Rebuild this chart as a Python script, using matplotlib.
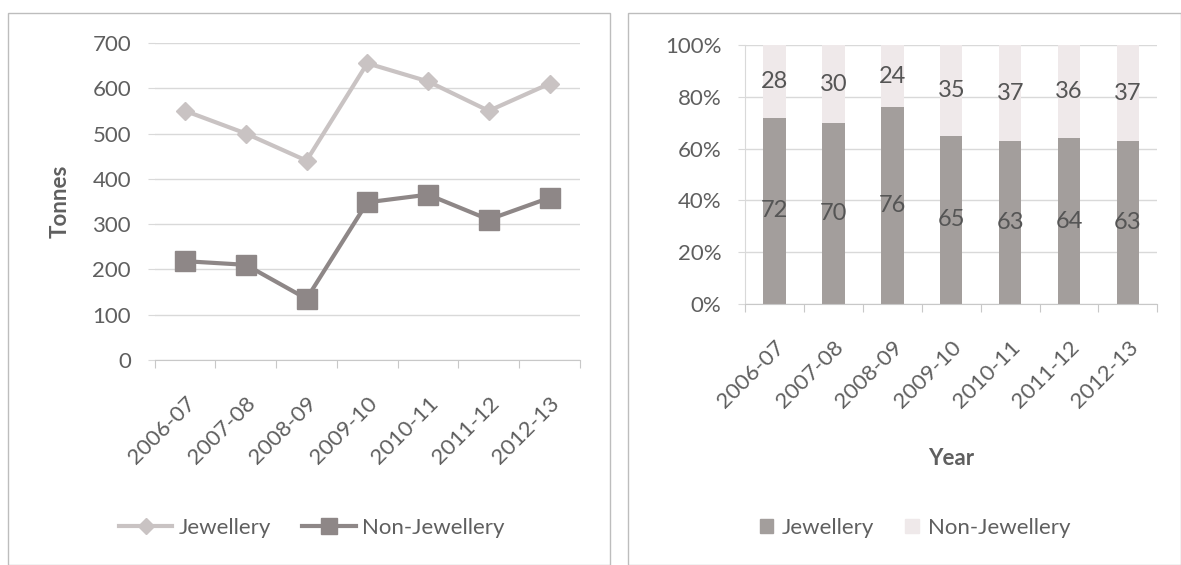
import matplotlib.pyplot as plt
import numpy as np
from matplotlib.patches import Rectangle
from matplotlib.lines import Line2D

plt.rcParams['font.family'] = ['Lato', 'DejaVu Sans']

years = ['2006-07', '2007-08', '2008-09', '2009-10', '2010-11', '2011-12', '2012-13']
jewellery_t = [550, 500, 440, 655, 615, 550, 610]
non_jewellery_t = [218, 210, 135, 348, 365, 310, 358]
jewellery_pct = [72, 70, 76, 65, 63, 64, 63]
non_jewellery_pct = [28, 30, 24, 35, 37, 36, 37]

text_col = '#5f5f5f'
grid_col = '#d9d9d9'
jew_line = '#c9c3c3'
non_line = '#8e8787'
jew_bar = '#a39e9c'
non_bar = '#efe9ea'
fs = 16

fig = plt.figure(figsize=(11.81, 5.65), dpi=100)

# panel frames
for x0, x1 in [(8, 610), (628, 1181)]:
    fig.patches.append(Rectangle((x0 / 1181, 0), (x1 - x0) / 1181, 1 - 13 / 565,
                                 transform=fig.transFigure, fill=False,
                                 edgecolor='#bdbdbd', linewidth=1))

x = np.arange(len(years))


def style_axes(ax):
    ax.set_xlim(-0.5, len(years) - 0.5)
    ax.grid(axis='y', color=grid_col, linewidth=1)
    ax.set_axisbelow(True)
    for s in ['top', 'right', 'left']:
        ax.spines[s].set_visible(False)
    ax.spines['bottom'].set_color('#c8c8c8')
    ax.set_xticks(np.arange(-0.5, len(years)), minor=False)
    ax.set_xticklabels([])
    ax.set_xticks(x, minor=True)
    ax.set_xticklabels(years, minor=True, rotation=45, ha='right',
                       rotation_mode='anchor', fontsize=fs, color=text_col)
    ax.tick_params(axis='x', which='major', length=6, color='#c8c8c8')
    ax.tick_params(axis='x', which='minor', length=0, pad=24)
    ax.tick_params(axis='y', length=5, color=grid_col, labelsize=fs,
                   labelcolor=text_col, pad=12)


# left: tonnes
ax1 = fig.add_axes([0.131, 0.363, 0.36, 0.561])
ax1.plot(x, jewellery_t, color=jew_line, linewidth=3, marker='D', markersize=9,
         label='Jewellery')
ax1.plot(x, non_jewellery_t, color=non_line, linewidth=3, marker='s', markersize=14,
         label='Non-Jewellery')
ax1.set_ylim(0, 700)
ax1.set_yticks(range(0, 701, 100))
style_axes(ax1)
ax1.set_ylabel('Tonnes', fontsize=fs, fontweight='bold', color=text_col, labelpad=16)

h1 = [Line2D([], [], color=jew_line, linewidth=3, marker='D', markersize=8),
      Line2D([], [], color=non_line, linewidth=3, marker='s', markersize=11)]
fig.legend(h1, ['Jewellery', 'Non-Jewellery'], loc='center', ncol=2,
           bbox_to_anchor=(312 / 1181, 1 - 528 / 565), frameon=False, fontsize=fs,
           labelcolor=text_col, handlelength=2.4, handletextpad=0.3, columnspacing=1.4)

# right: share
ax2 = fig.add_axes([0.631, 0.462, 0.349, 0.458])
w = 0.38
ax2.bar(x, jewellery_pct, width=w, color=jew_bar, label='Jewellery')
ax2.bar(x, non_jewellery_pct, width=w, bottom=jewellery_pct, color=non_bar,
        label='Non-Jewellery')
for i in range(len(years)):
    ax2.text(x[i], jewellery_pct[i] / 2, str(jewellery_pct[i]), ha='center',
             va='center', fontsize=17, color='#555555')
    ax2.text(x[i], jewellery_pct[i] + non_jewellery_pct[i] / 2, str(non_jewellery_pct[i]),
             ha='center', va='center', fontsize=17, color='#555555')
ax2.set_ylim(0, 100)
ax2.set_yticks(range(0, 101, 20))
ax2.set_yticklabels([f'{v}%' for v in range(0, 101, 20)])
style_axes(ax2)
ax2.spines['left'].set_visible(True)
ax2.spines['left'].set_color(grid_col)
ax2.set_xlabel('Year', fontsize=fs, fontweight='bold', color=text_col, labelpad=26)

h2 = [Rectangle((0, 0), 1, 1, color=jew_bar), Rectangle((0, 0), 1, 1, color=non_bar)]
fig.legend(h2, ['Jewellery', 'Non-Jewellery'], loc='center', ncol=2,
           bbox_to_anchor=(915 / 1181, 1 - 528 / 565), frameon=False, fontsize=fs,
           labelcolor=text_col, handlelength=0.6, handleheight=0.6,
           handletextpad=0.4, columnspacing=1.4)

fig.savefig('out.png', dpi=100)
